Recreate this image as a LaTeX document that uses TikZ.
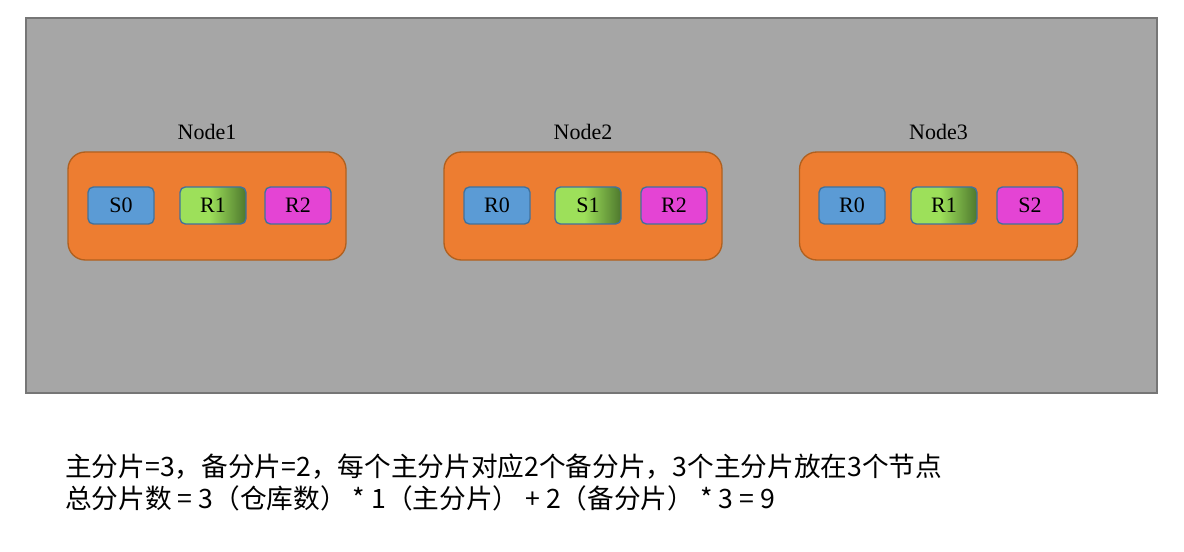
\documentclass[tikz,border=0pt]{standalone}
\usepackage{fontspec}
\setmainfont{Liberation Serif}
\newfontfamily\cjk{Noto Sans CJK SC}
\definecolor{bggray}{HTML}{A6A6A6}
\definecolor{bgborder}{HTML}{767676}
\definecolor{orfill}{HTML}{ED7D31}
\definecolor{orborder}{HTML}{B0601F}
\definecolor{sblue}{HTML}{5B9BD5}
\definecolor{smag}{HTML}{E444D4}
\definecolor{sborder}{HTML}{41719C}
\definecolor{lgreen}{HTML}{9DE05A}
\definecolor{dgreen}{HTML}{4E782D}
\pgfdeclarehorizontalshading{greensh}{100bp}{color(0bp)=(lgreen); color(25bp)=(lgreen); color(47bp)=(lgreen); color(75bp)=(dgreen); color(100bp)=(dgreen)}
\tikzset{
  hostbox/.style={draw=orborder, line width=1pt, fill=orfill, rounded corners=13pt, minimum width=208.5pt, minimum height=81pt},
  hostlabel/.style={font=\fontsize{16.5}{19}\selectfont, inner sep=0pt},
  shard/.style={draw=sborder, line width=1pt, rounded corners=4pt, minimum width=49.5pt, minimum height=27.75pt, inner sep=0pt, font=\fontsize{16.5}{19}\selectfont},
  bshard/.style={shard, fill=sblue},
  gshard/.style={shard, shading=greensh},
  mshard/.style={shard, fill=smag},
  note/.style={anchor=west, inner sep=0pt, font=\cjk\fontsize{20}{24}\selectfont}
}
\begin{document}
\begin{tikzpicture}[x=0.75pt,y=-0.75pt]
\useasboundingbox (0,0) rectangle (1184,552);
\fill[white] (0,0) rectangle (1184,552);
\draw[bgborder, fill=bggray, line width=0.9pt] (26,18) rectangle (1157,393);
% hosts
\node[hostbox] (h1) at (207,206) {};
\node[hostbox] (h2) at (583,206) {};
\node[hostbox] (h3) at (938.5,206) {};
\node[hostlabel] (l1) at (207,132) {Node1};
\node[hostlabel] (l2) at (583,132) {Node2};
\node[hostlabel] (l3) at (938.5,132) {Node3};
% shards node1
\node[bshard] (a1) at (121,205.5) {S0};
\node[gshard] (a2) at (213,205.5) {R1};
\node[mshard] (a3) at (298,205.5) {R2};
% node2
\node[bshard] (b1) at (497,205.5) {R0};
\node[gshard] (b2) at (588,205.5) {S1};
\node[mshard] (b3) at (674,205.5) {R2};
% node3
\node[bshard] (c1) at (852,205.5) {R0};
\node[gshard] (c2) at (944,205.5) {R1};
\node[mshard] (c3) at (1030,205.5) {S2};
% notes
\node[note] (t1) at (65,467) {主分片=3，备分片=2，每个主分片对应2个备分片，3个主分片放在3个节点};
\node[note] (t2) at (65,498) {总分片数 = 3（仓库数） * 1（主分片） + 2（备分片） * 3 = 9};
\end{tikzpicture}
\end{document}
